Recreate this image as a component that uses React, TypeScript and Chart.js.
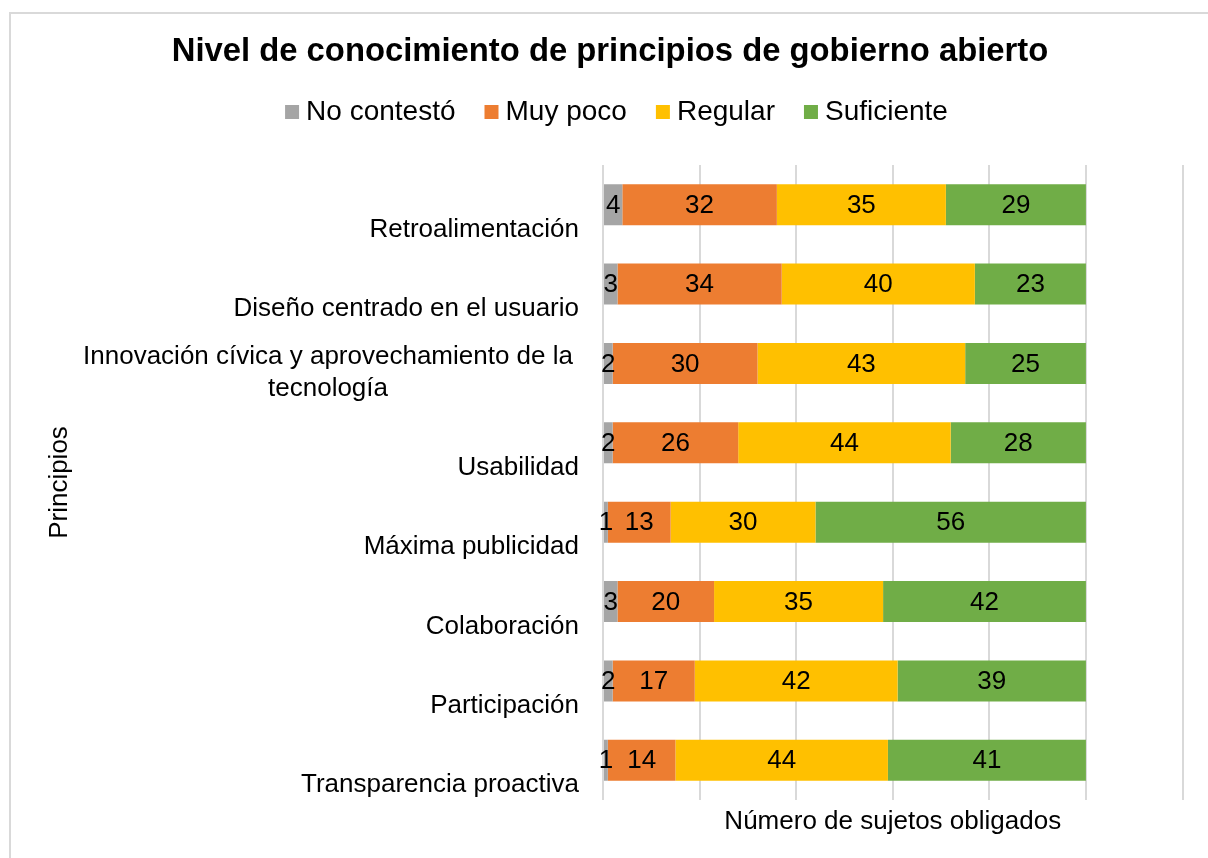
import React, { useEffect, useRef } from "react";
import { Chart, registerables } from "chart.js";

Chart.register(...registerables);

// ---------- data ----------
const categories: (string | string[])[] = [
  "Retroalimentación",
  "Diseño centrado en el usuario",
  ["Innovación cívica y aprovechamiento de la", "tecnología"],
  "Usabilidad",
  "Máxima publicidad",
  "Colaboración",
  "Participación",
  "Transparencia proactiva",
];
const seriesNames = ["No contestó", "Muy poco", "Regular", "Suficiente"];
const noContesto = [4, 3, 2, 2, 1, 3, 2, 1];
const muyPoco = [32, 34, 30, 26, 13, 20, 17, 14];
const regular = [35, 40, 43, 44, 30, 35, 42, 44];
const suficiente = [29, 23, 25, 28, 56, 42, 39, 41];
const seriesColors = ["#A5A5A5", "#ED7D31", "#FFC000", "#70AD47"];
const xMin = 0;
const xMax = 120;
const xStep = 20;
const chartTitle = "Nivel de conocimiento de principios de gobierno abierto";
const xAxisTitle = "Número de sujetos obligados";
const yAxisTitle = "Principios";

const FONT = "'Liberation Sans', Arial, Helvetica, sans-serif";
const LABEL_SIZE = 26;
const LINE_H = 31.2;

// value labels centred in each bar segment
const valueLabels = {
  id: "valueLabels",
  afterDatasetsDraw(chart: any) {
    const ctx = chart.ctx;
    ctx.save();
    ctx.font = `${LABEL_SIZE}px ${FONT}`;
    ctx.fillStyle = "#000";
    ctx.textAlign = "center";
    ctx.textBaseline = "middle";
    chart.data.datasets.forEach((ds: any, di: number) => {
      const meta = chart.getDatasetMeta(di);
      if (meta.hidden) return;
      meta.data.forEach((el: any, i: number) => {
        const v = ds.data[i];
        const p = el.getProps(["x", "base", "y"], true);
        ctx.fillText(String(v), (p.x + p.base) / 2, p.y + 1);
      });
    });
    ctx.restore();
  },
};

// category labels: placed at the lower part of each band, multi-line ones centred
const categoryLabels = {
  id: "categoryLabels",
  afterDraw(chart: any) {
    const scale = chart.scales.y;
    const ctx = chart.ctx;
    ctx.save();
    ctx.font = `${LABEL_SIZE}px ${FONT}`;
    ctx.fillStyle = "#000";
    ctx.textBaseline = "middle";
    const right = scale.right - 24;
    categories.forEach((lab, i) => {
      const yc = scale.getPixelForValue(i) + 25;
      if (Array.isArray(lab)) {
        const maxW = Math.max(...lab.map((t) => ctx.measureText(t).width));
        const cx = right - 6 - maxW / 2;
        ctx.textAlign = "center";
        const n = lab.length;
        lab.forEach((t, k) => {
          ctx.fillText(t, cx, yc - (n - 1 - k) * LINE_H);
        });
      } else {
        ctx.textAlign = "right";
        ctx.fillText(lab, right, yc);
      }
    });
    ctx.restore();
  },
};

// nudge the legend row slightly to the right, as in the reference
const legendShift = {
  id: "legendShift",
  afterLayout(chart: any) {
    const lg = chart.legend;
    if (lg) {
      lg.left += 10;
      lg.right += 10;
    }
  },
};

export default function App() {
  const canvasRef = useRef<HTMLCanvasElement | null>(null);

  useEffect(() => {
    if (!canvasRef.current) return;
    const values = [noContesto, muyPoco, regular, suficiente];
    const chart = new Chart(canvasRef.current, {
      type: "bar",
      data: {
        labels: categories.map((c) => (Array.isArray(c) ? c.join(" ") : c)),
        datasets: seriesNames.map((name, i) => ({
          label: name,
          data: values[i],
          backgroundColor: seriesColors[i],
          borderWidth: 0,
          categoryPercentage: 1,
          barPercentage: 0.515,
          pointStyle: "rect",
          xAxisID: "x",
          yAxisID: "y",
        })),
      },
      options: {
        indexAxis: "y",
        responsive: false,
        animation: false,
        events: [],
        layout: { padding: { top: 0, left: 37.5, right: 25.5, bottom: 16.4 } },
        plugins: {
          tooltip: { enabled: false },
          title: {
            display: true,
            text: chartTitle,
            color: "#000",
            font: { family: FONT, size: 32.8, weight: "bold", lineHeight: "20px" },
            padding: { top: 42, bottom: 0 },
          },
          legend: {
            display: true,
            position: "top",
            labels: {
              color: "#000",
              font: { family: FONT, size: 28, lineHeight: 1.2 },
              usePointStyle: true,
              boxWidth: 0.01,
              boxHeight: 14,
              padding: 36,
            },
          },
        },
        scales: {
          x: {
            type: "linear",
            position: "bottom",
            stacked: true,
            min: xMin,
            max: xMax,
            ticks: { display: false, stepSize: xStep },
            grid: { color: "#d9d9d9", lineWidth: 2, drawTicks: false },
            border: { display: false },
            title: {
              display: true,
              text: xAxisTitle,
              color: "#000",
              font: { family: FONT, size: 26, lineHeight: 1.2 },
              padding: { top: 6.4, bottom: 4 },
            },
          },
          xTop: {
            type: "linear",
            axis: "x",
            position: "top",
            display: true,
            min: 0,
            max: 1,
            ticks: { display: false },
            grid: { display: false, drawTicks: false },
            border: { display: false },
            title: {
              display: true,
              text: "",
              font: { family: FONT, size: 10, lineHeight: 1.2 },
              padding: { top: 17, bottom: 0 },
            },
          },
          y: {
            type: "category",
            stacked: true,
            grid: { display: false, drawTicks: false },
            border: { display: false },
            ticks: { display: false, autoSkip: false },
            title: {
              display: true,
              text: yAxisTitle,
              color: "#000",
              font: { family: FONT, size: 26, lineHeight: 1.2 },
              padding: { top: 7, bottom: 0 },
            },
            afterFit: (scale: any) => {
              scale.width = 565.5;
            },
          },
        },
      } as any,
      plugins: [valueLabels, categoryLabels, legendShift],
    });
    return () => chart.destroy();
  }, []);

  return (
    <div
      style={{
        position: "fixed",
        left: 0,
        top: 0,
        width: 1208,
        height: 858,
        overflow: "hidden",
        background: "#fff",
      }}
    >
      <div
        style={{
          position: "absolute",
          left: 9,
          top: 12,
          width: 1300,
          height: 900,
          borderTop: "2px solid #d9d9d9",
          borderLeft: "2px solid #d9d9d9",
        }}
      />
      <canvas
        ref={canvasRef}
        width={1208}
        height={858}
        style={{ position: "absolute", left: 0, top: 0, width: 1208, height: 858 }}
      />
    </div>
  );
}
